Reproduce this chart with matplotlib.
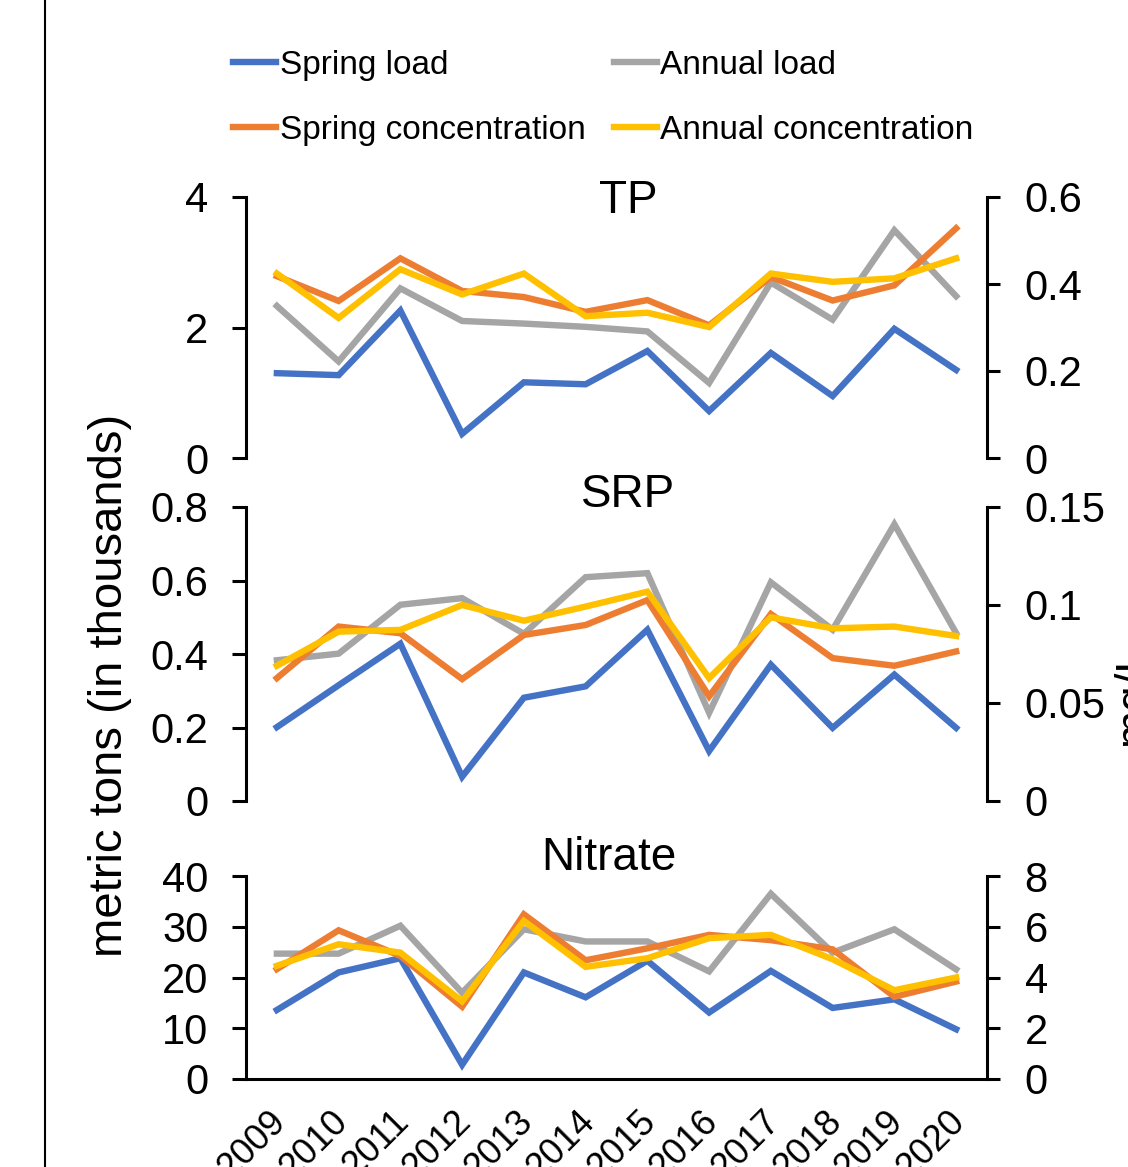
import numpy as np
import matplotlib
matplotlib.use("Agg")
import matplotlib.pyplot as plt
import matplotlib.transforms as mtransforms
from matplotlib.lines import Line2D

plt.rcParams['font.family'] = ['Liberation Sans', 'DejaVu Sans']

years = ['2009', '2010', '2011', '2012', '2013', '2014',
         '2015', '2016', '2017', '2018', '2019', '2020']

# TP: loads in thousand metric tons, concentrations in mg/L
tp_spring_load = [1.30, 1.27, 2.26, 0.37, 1.16, 1.13, 1.64, 0.72, 1.61, 0.95, 1.98, 1.35]
tp_annual_load = [2.33, 1.48, 2.60, 2.10, 2.06, 2.01, 1.94, 1.15, 2.69, 2.12, 3.49, 2.48]
tp_spring_conc = [0.418, 0.361, 0.459, 0.384, 0.370, 0.336, 0.363, 0.305, 0.416, 0.362, 0.397, 0.528]
tp_annual_conc = [0.424, 0.322, 0.434, 0.376, 0.424, 0.326, 0.334, 0.301, 0.424, 0.405, 0.413, 0.459]

# SRP
srp_spring_load = [0.201, 0.315, 0.428, 0.066, 0.281, 0.312, 0.466, 0.136, 0.371, 0.199, 0.344, 0.199]
srp_annual_load = [0.383, 0.401, 0.534, 0.552, 0.455, 0.609, 0.620, 0.240, 0.595, 0.466, 0.753, 0.457]
srp_spring_conc = [0.0627, 0.0890, 0.0856, 0.0622, 0.0847, 0.0898, 0.1025, 0.0534, 0.0954, 0.0729, 0.0690, 0.0763]
srp_annual_conc = [0.0690, 0.0864, 0.0873, 0.1000, 0.0920, 0.0992, 0.1068, 0.0627, 0.0937, 0.0881, 0.0890, 0.0842]

# Nitrate
no3_spring_load = [13.6, 21.0, 23.8, 2.8, 21.0, 16.1, 23.3, 13.1, 21.3, 14.0, 15.7, 9.8]
no3_annual_load = [24.7, 24.7, 30.2, 17.0, 29.5, 27.1, 27.1, 21.2, 36.5, 24.9, 29.5, 21.6]
no3_spring_conc = [4.33, 5.86, 4.85, 2.85, 6.49, 4.68, 5.15, 5.68, 5.47, 5.11, 3.24, 3.84]
no3_annual_conc = [4.46, 5.31, 4.98, 3.06, 6.23, 4.42, 4.76, 5.55, 5.68, 4.72, 3.50, 4.00]

BLUE, GRAY, ORANGE, YELLOW = '#4472C4', '#A5A5A5', '#ED7D31', '#FFC000'
LW = 4.6
TICK_FS = 30

fig = plt.figure(figsize=(11.28, 11.67), dpi=100)

W, H = 1128, 1167
left = 246 / W
width = (987 - 246) / W


def make_axes(top_px, bottom_px):
    return fig.add_axes([left, 1 - bottom_px / H, width, (bottom_px - top_px) / H])


panels = [
    dict(title='TP', box=(197, 458), loads=(tp_spring_load, tp_annual_load),
         concs=(tp_spring_conc, tp_annual_conc),
         lt=[0, 2, 4], ltl=['0', '2', '4'],
         rt=[0, 0.2, 0.4, 0.6], rtl=['0', '0.2', '0.4', '0.6'],
         tx=0.5155, ty=0.9387),
    dict(title='SRP', box=(507, 801), loads=(srp_spring_load, srp_annual_load),
         concs=(srp_spring_conc, srp_annual_conc),
         lt=[0, 0.2, 0.4, 0.6, 0.8], ltl=['0', '0.2', '0.4', '0.6', '0.8'],
         rt=[0, 0.05, 0.1, 0.15], rtl=['0', '0.05', '0.1', '0.15'],
         tx=0.5155, ty=1.0),
    dict(title='Nitrate', box=(876, 1079), loads=(no3_spring_load, no3_annual_load),
         concs=(no3_spring_conc, no3_annual_conc),
         lt=[0, 10, 20, 30, 40], ltl=['0', '10', '20', '30', '40'],
         rt=[0, 2, 4, 6, 8], rtl=['0', '2', '4', '6', '8'],
         tx=0.49, ty=1.03),
]

x = np.arange(len(years))
handles = {}

for i, p in enumerate(panels):
    ax = make_axes(*p['box'])
    ax2 = ax.twinx()
    h1, = ax.plot(x, p['loads'][0], color=BLUE, lw=LW, solid_joinstyle='miter')
    h2, = ax.plot(x, p['loads'][1], color=GRAY, lw=LW, solid_joinstyle='miter')
    h3, = ax2.plot(x, p['concs'][0], color=ORANGE, lw=LW, solid_joinstyle='miter')
    h4, = ax2.plot(x, p['concs'][1], color=YELLOW, lw=LW, solid_joinstyle='miter')
    handles = dict(sl=h1, al=h2, sc=h3, ac=h4)

    ax.set_xlim(-0.5, len(years) - 0.5)
    ax.set_ylim(p['lt'][0], p['lt'][-1])
    ax2.set_ylim(p['rt'][0], p['rt'][-1])
    ax.set_yticks(p['lt'], p['ltl'])
    ax2.set_yticks(p['rt'], p['rtl'])

    for a in (ax, ax2):
        a.spines['top'].set_visible(False)
        for s in a.spines.values():
            s.set_linewidth(2.2)
        a.patch.set_visible(False)
    ax2.spines['left'].set_visible(False)
    ax2.spines['bottom'].set_visible(False)
    ax.spines['right'].set_visible(False)

    ax.tick_params(axis='y', direction='out', length=10, width=2.2,
                   pad=17, labelsize=TICK_FS)
    ax2.tick_params(axis='y', direction='out', length=9, width=2.2,
                    pad=18, labelsize=TICK_FS)

    last = i == len(panels) - 1
    if last:
        ax.set_xticks(np.arange(len(years) + 1) - 0.5, [''] * (len(years) + 1))
        ax.set_xticks(x, years, minor=True)
        ax.tick_params(axis='x', which='major', direction='out', length=8, width=2.2)
        ax.tick_params(axis='x', which='minor', length=0, pad=18, labelsize=26)
        shift = mtransforms.ScaledTranslation(-9 / 100, 0, fig.dpi_scale_trans)
        for lab in ax.get_xticklabels(minor=True):
            lab.set_rotation(45)
            lab.set_ha('right')
            lab.set_va('top')
            lab.set_rotation_mode('anchor')
            lab.set_transform(lab.get_transform() + shift)
        ax.spines['bottom'].set_linewidth(2.2)
    else:
        ax.spines['bottom'].set_visible(False)
        ax.set_xticks([])
    ax2.set_xticks([])

    ax.text(p['tx'], p['ty'], p['title'], transform=ax.transAxes,
            ha='center', va='baseline', fontsize=33)

order = [('sl', 'Spring load'), ('sc', 'Spring concentration'),
         ('al', 'Annual load'), ('ac', 'Annual concentration')]
fig.legend([handles[k] for k, _ in order], [lab for _, lab in order],
           loc='upper left', bbox_to_anchor=(233 / W, 1 - 50 / H),
           ncol=2, frameon=False, fontsize=24, handlelength=1.3,
           handletextpad=0.1, columnspacing=0.85, labelspacing=1.02,
           borderpad=0, borderaxespad=0)

fig.text(110 / W, 1 - 685 / H, 'metric tons (in thousands)', rotation=90,
         ha='center', va='center', fontsize=34)
fig.text(1112 / W, 1 - 695 / H, 'mg/L', rotation=90,
         ha='left', va='center', fontsize=33)

fig.add_artist(Line2D([45 / W, 45 / W], [0, 1], color='black', lw=1.5))

fig.savefig('out.png', dpi=100)
